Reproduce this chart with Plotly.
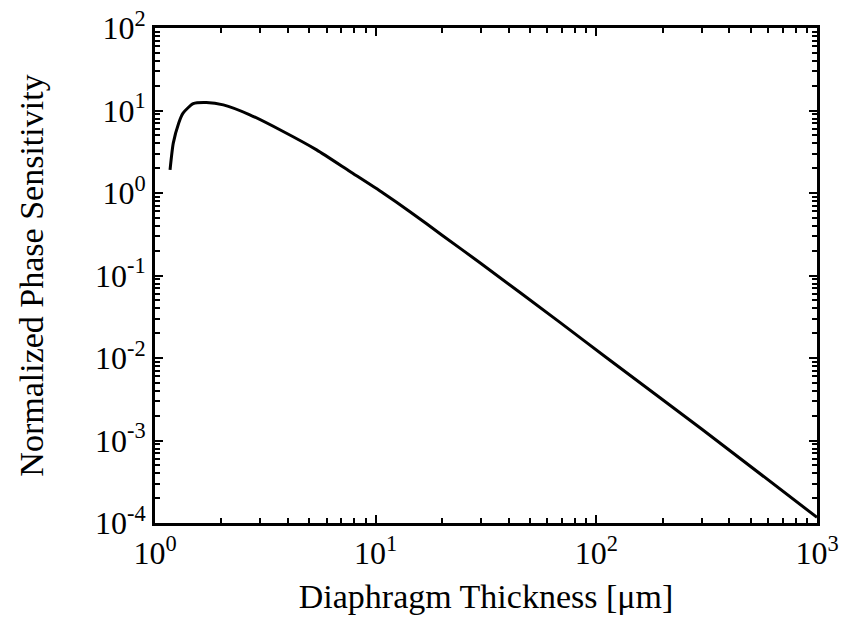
import plotly.graph_objects as go

# Diaphragm thickness (um) and normalized phase sensitivity
thickness = [1.17, 1.21, 1.28, 1.34, 1.49, 1.71, 2.04, 2.69, 3.81, 5.40, 7.65,
             10.8, 14.3, 20.0, 30.0, 68.4, 111.7, 300.0, 1000.0]
sensitivity = [1.91, 4.02, 7.03, 9.3, 12.1, 12.5, 11.7, 8.87, 5.56, 3.33, 1.82,
               1.0, 0.594, 0.308, 0.14, 0.027, 0.0100, 0.00138, 1.17e-4]

x_tickvals = [1, 10, 100, 1000]
x_ticktext = ["10<sup>0</sup>", "10<sup>1</sup>", "10<sup>2</sup>", "10<sup>3</sup>"]
y_tickvals = [1e-4, 1e-3, 1e-2, 1e-1, 1, 10, 100]
y_ticktext = ["10<sup>-4</sup>", "10<sup>-3</sup>", "10<sup>-2</sup>", "10<sup>-1</sup>",
              "10<sup>0</sup>", "10<sup>1</sup>", "10<sup>2</sup>"]

FONT = "Liberation Serif"

fig = go.Figure()
fig.add_trace(go.Scatter(
    x=thickness, y=sensitivity, mode="lines",
    line=dict(color="black", width=3, shape="spline", smoothing=0.6),
    showlegend=False,
))

axis_common = dict(
    type="log",
    automargin=False,
    showgrid=False,
    zeroline=False,
    showline=True,
    linecolor="black",
    linewidth=3,
    mirror="ticks",
    ticks="inside",
    ticklen=8,
    tickwidth=2,
    tickcolor="black",
    tickfont=dict(family=FONT, size=32, color="black"),
    minor=dict(ticks="inside", ticklen=5, tickwidth=2, tickcolor="black",
               dtick="D1", showgrid=False),
)

fig.update_xaxes(
    **axis_common,
    range=[0, 3],
    tickvals=x_tickvals,
    ticktext=x_ticktext,
    title=dict(text="Diaphragm Thickness [\u03bcm]",
               font=dict(family=FONT, size=34, color="black"), standoff=14),
)
fig.update_yaxes(
    **axis_common,
    range=[-4, 2],
    tickvals=y_tickvals,
    ticktext=y_ticktext,
    title=dict(text="Normalized Phase Sensitivity",
               font=dict(family=FONT, size=34, color="black"), standoff=42),
)

fig.update_layout(
    width=842, height=636,
    margin=dict(l=155, r=25, t=28, b=113),
    paper_bgcolor="white",
    plot_bgcolor="white",
)

fig.write_html("out.html")
